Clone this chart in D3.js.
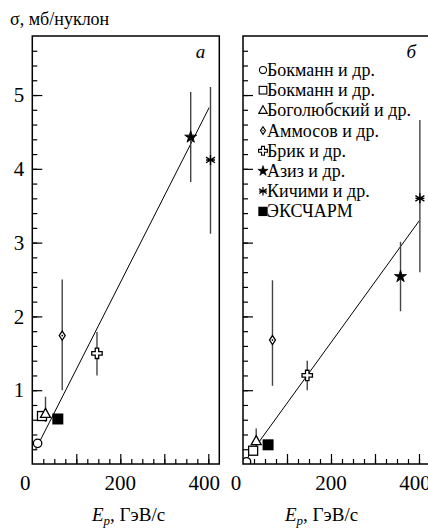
<!DOCTYPE html>
<html>
<head>
<meta charset="utf-8">
<script src="https://cdn.jsdelivr.net/npm/d3@7"></script>
<style>
  body { margin: 0; background: #fff; }
  svg text { font-family: "Liberation Serif", "DejaVu Serif", serif; fill: #000; }
</style>
</head>
<body>
<div id="chart"></div>
<script>
// data, in legend order
var sources = ["Бокманн и др.", "Бокманн и др.", "Боголюбский и др.", "Аммосов и др.",
               "Брик и др.", "Азиз и др.", "Кичими и др.", "ЭКСЧАРМ"];
var symbolNames = ["circle", "square", "triangle", "diamond", "cross", "star", "asterisk", "filled"];

// panel a
var energyA = [12, 22, 30, 68, 147, 360, 405, 58];
var sigmaA = [0.28, 0.65, 0.68, 1.74, 1.5, 4.43, 4.12, 0.61];
var lowA = [null, null, 0.57, 1.0, 1.2, 3.82, 3.12, null];
var highA = [null, null, 0.91, 2.5, 1.79, 5.04, 5.11, null];
var fitEnergyA = [7, 402];
var fitSigmaA = [0.19, 4.83];

// panel b
var energyB = [8, 23, 30, 67, 146, 358, 402, 57];
var sigmaB = [0.03, 0.18, 0.31, 1.68, 1.2, 2.54, 3.6, 0.26];
var lowB = [null, null, 0.2, 1.06, 1.0, 2.07, 2.6, null];
var highB = [null, null, 0.48, 2.49, 1.4, 3.01, 4.66, null];
var fitEnergyB = [0, 401];
var fitSigmaB = [0, 3.3];

var xTickLabels = [0, 200, 400];
var yTickLabels = [1, 2, 3, 4, 5];

//general setup
var width = 428,
    height = 532,
    panelW = 187,
    panelH = 428,
    marginTop = 36;

var serif = "'Liberation Serif', 'DejaVu Serif', serif";

var svg = d3.select("#chart").append("svg")
    .attr("width", width)
    .attr("height", height)
    .style("font-family", serif);

var xScale = d3.scaleLinear().domain([0, 425]).range([0, panelW]);
var yScale = d3.scaleLinear().domain([0, 5.8]).range([panelH, 0]);

// marker drawing
function drawMarker(sel, name) {
    if (name == "circle") {
        sel.append("circle").attr("r", 4.2)
            .attr("fill", "#fff").attr("stroke", "#000").attr("stroke-width", 1.3);
    } else if (name == "square") {
        sel.append("rect").attr("x", -4.5).attr("y", -4.5).attr("width", 9).attr("height", 9)
            .attr("fill", "#fff").attr("stroke", "#000").attr("stroke-width", 1.3);
    } else if (name == "triangle") {
        sel.append("path").attr("d", "M0,-5.5L5,3.5L-5,3.5Z")
            .attr("fill", "#fff").attr("stroke", "#000").attr("stroke-width", 1.3);
    } else if (name == "diamond") {
        sel.append("path").attr("d", "M0,-4.5L3,0L0,4.5L-3,0Z")
            .attr("fill", "#fff").attr("stroke", "#000").attr("stroke-width", 1.3);
        sel.append("circle").attr("r", 0.9).attr("fill", "#000");
    } else if (name == "cross") {
        sel.append("path").attr("d", d3.symbol(d3.symbolCross, 60)())
            .attr("fill", "#fff").attr("stroke", "#000").attr("stroke-width", 1.3);
    } else if (name == "star") {
        sel.append("path").attr("d", d3.symbol(d3.symbolStar, 45)())
            .attr("fill", "#000").attr("stroke", "#000").attr("stroke-width", 0.8);
    } else if (name == "asterisk") {
        sel.append("path")
            .attr("d", "M0,-5V5M-4.5,-2.8L4.5,2.8M-4.5,2.8L4.5,-2.8M-4.5,0H4.5")
            .attr("fill", "none").attr("stroke", "#000").attr("stroke-width", 1.4);
    } else if (name == "filled") {
        sel.append("rect").attr("x", -5.5).attr("y", -5.5).attr("width", 11).attr("height", 11)
            .attr("fill", "#000");
    }
}

function drawPanel(left, label, energy, sigma, low, high, fitE, fitS, showY, titleX) {
    var g = svg.append("g").attr("transform", "translate(" + left + "," + marginTop + ")");
    var clipId = "clip" + (showY ? "A" : "B");

    g.append("clipPath").attr("id", clipId)
        .append("rect").attr("width", panelW).attr("height", panelH);

    var plot = g.append("g").attr("clip-path", "url(#" + clipId + ")");

    // fit line
    plot.append("line")
        .attr("x1", xScale(fitE[0])).attr("y1", yScale(fitS[0]))
        .attr("x2", xScale(fitE[1])).attr("y2", yScale(fitS[1]))
        .attr("stroke", "#000").attr("stroke-width", 1);

    // error bars
    energy.forEach(function (e, i) {
        if (low[i] == null) return;
        plot.append("line")
            .attr("x1", xScale(e)).attr("x2", xScale(e))
            .attr("y1", yScale(low[i])).attr("y2", yScale(high[i]))
            .attr("stroke", "#444").attr("stroke-width", 1.4);
    });

    // points
    energy.forEach(function (e, i) {
        var m = plot.append("g")
            .attr("transform", "translate(" + xScale(e) + "," + yScale(sigma[i]) + ")");
        drawMarker(m, symbolNames[i]);
    });

    // x axis: minor and major ticks pointing inward
    g.append("g")
        .attr("transform", "translate(0," + panelH + ")")
        .call(d3.axisBottom(xScale).tickValues(d3.range(25, 425, 25)).tickSize(-5).tickFormat(""))
        .call(function (a) { a.select(".domain").remove(); })
        .selectAll("line").attr("stroke-width", 1.2);

    g.append("g")
        .attr("transform", "translate(0," + panelH + ")")
        .call(d3.axisBottom(xScale).tickValues([100, 200, 300, 400]).tickSize(-10)
            .tickFormat(""))
        .call(function (a) { a.select(".domain").remove(); })
        .selectAll("line").attr("stroke-width", 1.2);

    // x tick labels (0 and 400 nudged left as in the original)
    g.append("g").selectAll("text")
        .data(xTickLabels)
        .join("text")
        .attr("x", function (d) { return xScale(d) + (d == 0 ? -7 : d == 400 ? -4 : 0); })
        .attr("y", panelH + 26)
        .attr("text-anchor", "middle")
        .attr("font-size", 21)
        .style("font-family", serif)
        .text(function (d) { return d; });

    // y axis
    g.append("g")
        .call(d3.axisLeft(yScale).tickValues(d3.range(0.2, 5.8, 0.2)).tickSize(-5).tickFormat(""))
        .call(function (a) { a.select(".domain").remove(); })
        .selectAll("line").attr("stroke-width", 1.2);

    var yMajor = g.append("g")
        .call(d3.axisLeft(yScale).tickValues(yTickLabels).tickSize(-10).tickPadding(8)
            .tickFormat(showY ? d3.format("d") : ""));
    yMajor.select(".domain").remove();
    yMajor.selectAll("line").attr("stroke-width", 1.2);
    yMajor.selectAll("text").attr("font-size", 21).style("font-family", serif);

    // frame
    g.append("rect")
        .attr("width", panelW).attr("height", panelH)
        .attr("fill", "none").attr("stroke", "#000").attr("stroke-width", 1.5);

    // panel label
    g.append("text")
        .attr("x", panelW - 14).attr("y", 22)
        .attr("text-anchor", "end")
        .attr("font-size", 19)
        .attr("font-style", "italic")
        .style("font-family", serif)
        .text(label);

    // x axis title
    var t = svg.append("text")
        .attr("x", titleX).attr("y", 521)
        .attr("font-size", 19)
        .style("font-family", serif);
    t.append("tspan").attr("font-style", "italic").text("E");
    t.append("tspan").attr("font-style", "italic").attr("font-size", 13).attr("dy", 4).text("p");
    t.append("tspan").attr("dy", -4).text(", ГэВ/с");

    return g;
}

drawPanel(32.3, "а", energyA, sigmaA, lowA, highA, fitEnergyA, fitSigmaA, true, 92);
var gb = drawPanel(243, "б", energyB, sigmaB, lowB, highB, fitEnergyB, fitSigmaB, false, 285);

// legend in panel b
var legend = gb.append("g");
sources.forEach(function (s, i) {
    var row = legend.append("g").attr("transform", "translate(20," + (34 + i * 20.2) + ")");
    drawMarker(row.append("g").attr("transform", "scale(0.85)"), symbolNames[i]);
    row.append("text")
        .attr("x", 4)
        .attr("y", 6)
        .attr("font-size", 18)
        .style("font-family", serif)
        .text(s);
});

// y axis title
svg.append("text")
    .attr("x", 10)
    .attr("y", 25)
    .attr("font-size", 18)
    .style("font-family", serif)
    .text("σ, мб/нуклон");
</script>
</body>
</html>
